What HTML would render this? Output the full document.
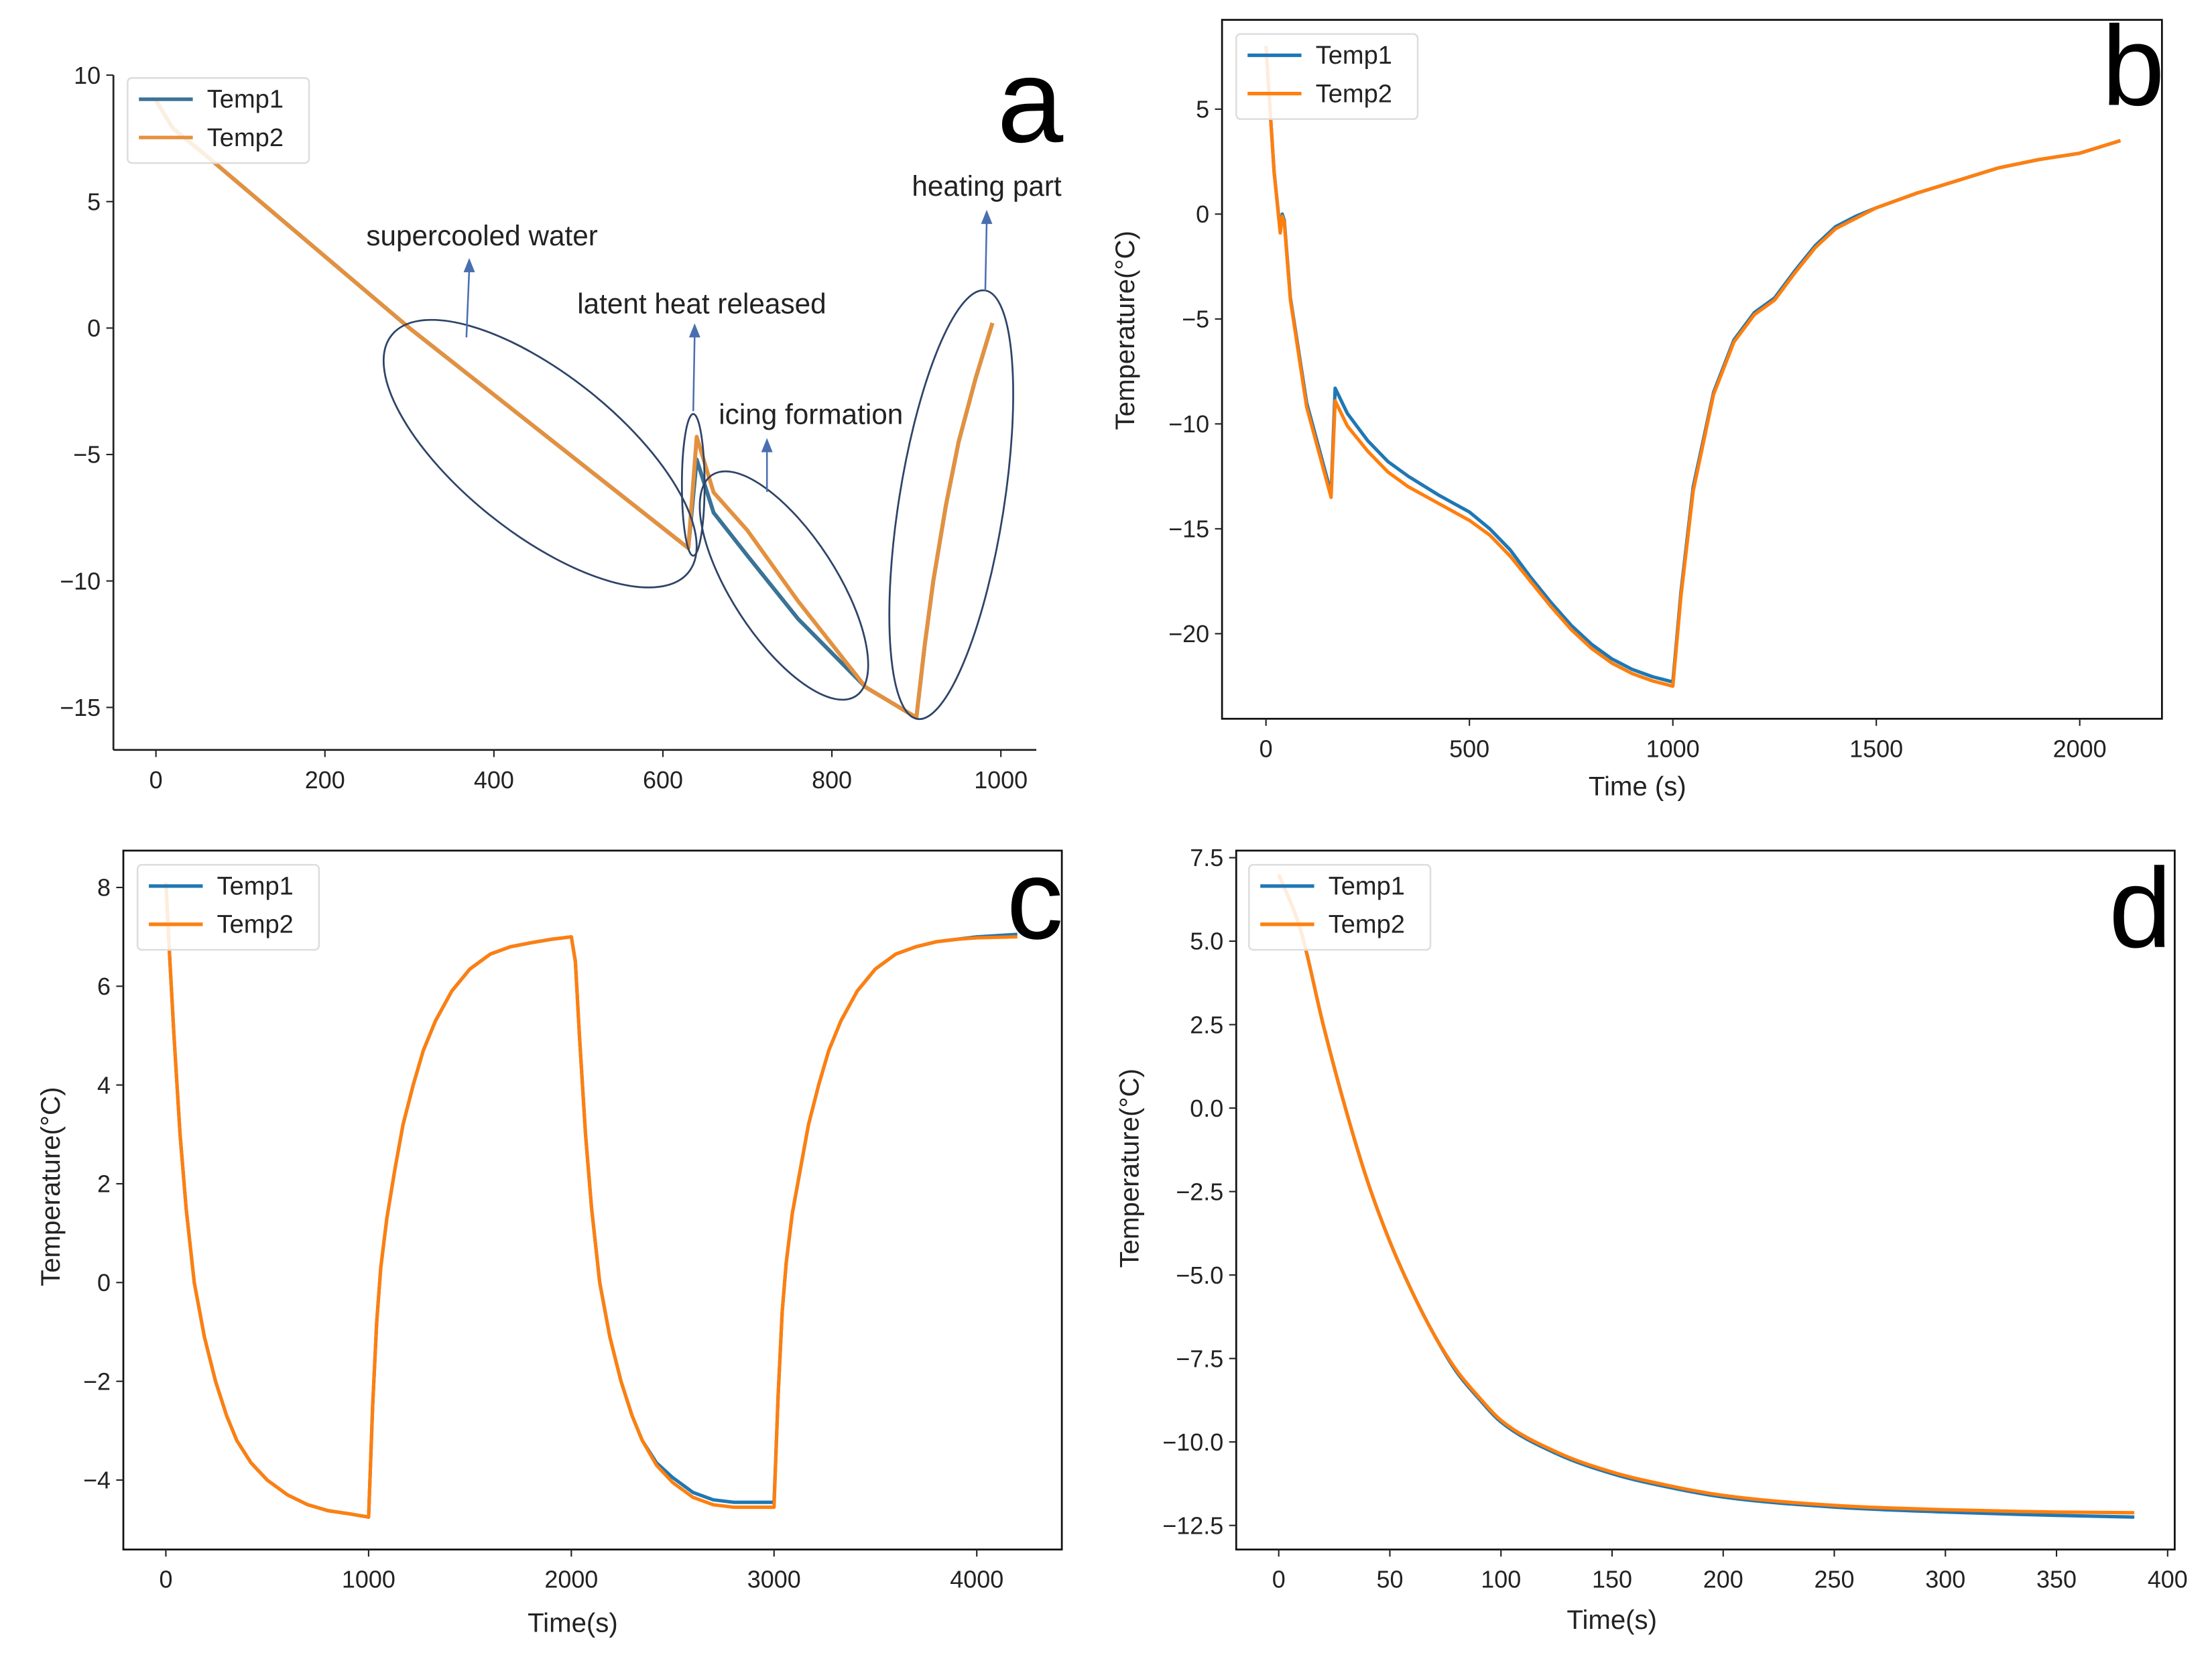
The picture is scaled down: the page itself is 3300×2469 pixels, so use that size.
<!DOCTYPE html>
<html><head><meta charset="utf-8"><style>
html,body{margin:0;padding:0;background:#fff}
svg{display:block}
text{font-family:"Liberation Sans","DejaVu Sans",sans-serif;fill:#222}
</style></head><body>
<svg id="fig" width="3300" height="2469" viewBox="0 0 1560.3 1167.4" preserveAspectRatio="none" xmlns="http://www.w3.org/2000/svg">
<g id="pa"></g>
<g id="pb"></g>
<g id="pc"></g>
<g id="pd"></g>
</svg>
<script>
// ---- Panel a data ----
const aT1x=[0,20,60,300,630,640,660,700,760,840,900,910,920,935,950,970,990];
const aT1y=[9,7.9,6.8,0,-8.7,-5.2,-7.3,-9,-11.5,-14.2,-15.4,-12.5,-10,-7,-4.5,-2,0.2];
const aT2x=[0,20,60,300,630,640,660,700,760,840,900,910,920,935,950,970,990];
const aT2y=[9,7.9,6.8,0,-8.7,-4.3,-6.5,-8,-10.8,-14.2,-15.4,-12.5,-10,-7,-4.5,-2,0.2];
const aXt=[0,200,400,600,800,1000];
const aYt=[10,5,0,-5,-10,-15];
// ---- Panel b data ----
const bT1x=[0,20,35,40,45,60,100,160,170,200,250,300,350,425,500,550,600,650,700,750,800,850,900,950,1000,1020,1050,1100,1150,1200,1250,1300,1350,1400,1450,1500,1600,1700,1800,1900,2000,2100];
const bT1y=[8,2,-0.8,0,-0.3,-4,-9,-13.3,-8.3,-9.5,-10.8,-11.8,-12.5,-13.4,-14.2,-15,-16,-17.3,-18.5,-19.6,-20.5,-21.2,-21.7,-22.05,-22.3,-18,-13,-8.5,-6,-4.7,-4,-2.7,-1.5,-0.6,-0.1,0.3,1,1.6,2.2,2.6,2.9,3.5];
const bT2y=[8,2,-0.9,-0.1,-0.4,-4.1,-9.2,-13.5,-8.9,-10.1,-11.3,-12.3,-13,-13.8,-14.6,-15.3,-16.3,-17.5,-18.7,-19.8,-20.7,-21.4,-21.9,-22.25,-22.5,-18.2,-13.2,-8.6,-6.1,-4.8,-4.1,-2.8,-1.6,-0.7,-0.2,0.3,1,1.6,2.2,2.6,2.9,3.5];
const bXt=[0,500,1000,1500,2000];
const bYt=[5,0,-5,-10,-15,-20];
// ---- Panel c data ----
const cX=[0,20,40,70,100,140,190,245,300,350,420,500,600,700,800,900,1000,1020,1040,1060,1090,1130,1170,1220,1270,1330,1410,1500,1600,1700,1800,1900,2000,2020,2040,2070,2100,2140,2190,2245,2300,2350,2420,2500,2600,2700,2800,3000,3020,3040,3060,3090,3130,3170,3220,3270,3330,3410,3500,3600,3700,3800,3900,4000,4200];
const cT1y=[8.1,6.5,5,3,1.5,0,-1.1,-2,-2.7,-3.2,-3.65,-4,-4.3,-4.5,-4.62,-4.68,-4.75,-2.5,-0.8,0.3,1.3,2.3,3.2,4,4.7,5.3,5.9,6.35,6.65,6.8,6.88,6.95,7,6.5,5,3,1.5,0,-1.1,-2,-2.7,-3.2,-3.65,-3.95,-4.25,-4.4,-4.45,-4.45,-2.3,-0.6,0.4,1.4,2.3,3.2,4,4.7,5.3,5.9,6.35,6.65,6.8,6.9,6.95,7,7.05];
const cT2y=[8.1,6.5,5,3,1.5,0,-1.1,-2,-2.7,-3.2,-3.65,-4,-4.3,-4.5,-4.62,-4.68,-4.75,-2.5,-0.8,0.3,1.3,2.3,3.2,4,4.7,5.3,5.9,6.35,6.65,6.8,6.88,6.95,7,6.5,5,3,1.5,0,-1.1,-2,-2.7,-3.2,-3.7,-4.05,-4.35,-4.5,-4.55,-4.55,-2.3,-0.6,0.4,1.4,2.3,3.2,4,4.7,5.3,5.9,6.35,6.65,6.8,6.9,6.95,6.98,7];
const cXt=[0,1000,2000,3000,4000];
const cYt=[8,6,4,2,0,-2,-4];
// ---- Panel d data ----
const dX=[0,10,20,30,40,50,60,70,80,90,100,125,150,175,200,250,300,350,385];
const dT1y=[7,5.3,2.5,0,-2.2,-4,-5.5,-6.8,-7.9,-8.7,-9.4,-10.35,-10.95,-11.35,-11.65,-11.95,-12.1,-12.2,-12.25];
const dT2y=[7,5.3,2.5,0,-2.2,-4,-5.5,-6.8,-7.85,-8.65,-9.35,-10.3,-10.9,-11.3,-11.6,-11.9,-12.03,-12.1,-12.12];
const dXt=[0,50,100,150,200,250,300,350,400];
const dYt=[7.5,5.0,2.5,0.0,-2.5,-5.0,-7.5,-10.0,-12.5];

const NS='http://www.w3.org/2000/svg';
function mk(tag,parent,attrs){const e=document.createElementNS(NS,tag);for(const k in attrs)e.setAttribute(k,attrs[k]);parent.appendChild(e);return e;}
function lin(d0,d1,p0,p1){return v=>p0+(v-d0)*(p1-p0)/(d1-d0);}
function minus(s){return String(s).replace('-','\u2212');}

function linPath(px,py){return px.map((x,i)=>(i?'L':'M')+x.toFixed(2)+' '+py[i].toFixed(2)).join(' ');}
function monoPath(px,py){
  const n=px.length; if(n<3)return linPath(px,py);
  const d=[],m=[];
  for(let i=0;i<n-1;i++){const dx=px[i+1]-px[i];d.push(dx===0?0:(py[i+1]-py[i])/dx);}
  m[0]=d[0];m[n-1]=d[n-2];
  for(let i=1;i<n-1;i++){m[i]=(d[i-1]*d[i]<=0)?0:(d[i-1]+d[i])/2;}
  for(let i=0;i<n-1;i++){if(d[i]===0){m[i]=0;m[i+1]=0;continue;}
    const a=m[i]/d[i],b=m[i+1]/d[i],s=a*a+b*b;if(s>9){const t=3/Math.sqrt(s);m[i]=t*a*d[i];m[i+1]=t*b*d[i];}}
  let p='M'+px[0].toFixed(2)+' '+py[0].toFixed(2);
  for(let i=0;i<n-1;i++){const h=(px[i+1]-px[i])/3;
    p+=' C'+(px[i]+h).toFixed(2)+' '+(py[i]+m[i]*h).toFixed(2)+' '+(px[i+1]-h).toFixed(2)+' '+(py[i+1]-m[i+1]*h).toFixed(2)+' '+px[i+1].toFixed(2)+' '+py[i+1].toFixed(2);}
  return p;
}

function axes(g,o){
  const sx=lin(o.x0,o.x1,o.px0,o.px1), sy=lin(o.y0,o.y1,o.py0,o.py1);
  if(o.box){
    const r=mk('rect',g,{x:o.L,y:o.T,width:o.R-o.L,height:o.B-o.T,fill:'none',stroke:'#111','stroke-width':1.3});
    
    
  } else {
    const l1=mk('line',g,{x1:o.L,y1:o.T,x2:o.L,y2:o.B,stroke:'#222','stroke-width':1.3});
    
    
    const l2=mk('line',g,{x1:o.L,y1:o.B,x2:o.R,y2:o.B,stroke:'#222','stroke-width':1.3});
    
    
  }
  o.xt.forEach(v=>{const x=sx(v);
    mk('line',g,{x1:x,y1:o.B,x2:x,y2:o.B+5,stroke:'#222','stroke-width':1});
    const t=mk('text',g,{x:x,y:o.B+27,'text-anchor':'middle','font-size':17});
    t.textContent=o.xfmt?o.xfmt(v):minus(v);
    
    
  });
  o.yt.forEach(v=>{const y=sy(v);
    mk('line',g,{x1:o.L-5,y1:y,x2:o.L,y2:y,stroke:'#222','stroke-width':1});
    const t=mk('text',g,{x:o.L-9,y:y+6,'text-anchor':'end','font-size':17});
    t.textContent=o.yfmt?o.yfmt(v):minus(v);
    
    
  });
  return {sx,sy};
}
function series(g,s,xs,ys,color,w,name,smooth){
  const px=xs.map(s.sx),py=ys.map(s.sy);
  const d=smooth?monoPath(px,py):linPath(px,py);
  const p=mk('path',g,{d:d,fill:'none',stroke:color,'stroke-width':w,'stroke-linejoin':'round'});
  
  
}
function legend(g,x,y,c1,c2){
  const lg=mk('g',g,{});
  
  
  mk('rect',lg,{x:x,y:y,width:128,height:60,rx:3,fill:'#fff','fill-opacity':0.85,stroke:'#ddd','stroke-width':1.2});
  mk('line',lg,{x1:x+8,y1:y+15,x2:x+46,y2:y+15,stroke:c1,'stroke-width':2.5});
  mk('line',lg,{x1:x+8,y1:y+42,x2:x+46,y2:y+42,stroke:c2,'stroke-width':2.5});
  const t1=mk('text',lg,{x:x+56,y:y+21,'font-size':18});t1.textContent='Temp1';
  
  
  const t2=mk('text',lg,{x:x+56,y:y+48,'font-size':18});t2.textContent='Temp2';
  
  
}
function bigLetter(g,ch,x,y,size){
  const t=mk('text',g,{x:x,y:y,'font-size':size,'text-anchor':'end',style:'fill:#000'});t.textContent=ch;
  
  
}
function label(g,txt,x,y,rot,name){
  const t=mk('text',g,{x:x,y:y,'font-size':19,'text-anchor':'middle'});
  if(rot)t.setAttribute('transform','rotate(-90 '+x+' '+y+')');
  t.textContent=txt;
  
  
}
const BLUE='#1f77b4',ORANGE='#ff7f0e';

// Panel a
const ga=document.getElementById('pa');
const sa=axes(ga,{L:80,R:731,T:53,B:529,x0:0,x1:1000,px0:110,px1:706,y0:10,y1:-15,py0:53,py1:499,xt:aXt,yt:aYt,box:false});
series(ga,sa,aT1x,aT1y,'#3a7396',2.8,'temp1-line',false);
series(ga,sa,aT2x,aT2y,'#e3913f',2.8,'temp2-line',false);
legend(ga,90,55,'#3a7396','#e3913f');
bigLetter(ga,'a',750,100,84);
const ells=[[381,320,134,56,38.6,'ellipse-supercooled'],[489,342,50,8,90,'ellipse-latent'],[553,413,93,37,57,'ellipse-icing'],[671,356,153,37,-81,'ellipse-heating']];
ells.forEach(e=>{const el=mk('ellipse',ga,{cx:e[0],cy:e[1],rx:e[2],ry:e[3],transform:'rotate('+e[4]+' '+e[0]+' '+e[1]+')',fill:'none',stroke:'#2e4468','stroke-width':1.3});
  
  });
const arrs=[[329,238,331,182,'supercooled water',340,173,'annotation-supercooled'],[489,290,490,228,'latent heat released',495,221,'annotation-latent'],[541,347,541,309,'icing formation',572,299,'annotation-icing'],[695,205,696,148,'heating part',696,138,'annotation-heating']];
arrs.forEach(a=>{
  mk('line',ga,{x1:a[0],y1:a[1],x2:a[2],y2:a[3]+8,stroke:'#4a6fb0','stroke-width':1.2});
  mk('path',ga,{d:'M'+(a[2]-4)+' '+(a[3]+10)+' L'+a[2]+' '+a[3]+' L'+(a[2]+4)+' '+(a[3]+10)+'Z',fill:'#4a6fb0'});
  const t=mk('text',ga,{x:a[5],y:a[6],'font-size':20,'text-anchor':'middle'});t.textContent=a[4];
  
  
});

// Panel b
const gb=document.getElementById('pb');
const sb=axes(gb,{L:862,R:1525,T:14,B:507,x0:0,x1:2000,px0:893,px1:1467,y0:5,y1:-20,py0:77,py1:447,xt:bXt,yt:bYt,box:true});
series(gb,sb,bT1x,bT1y,BLUE,2.4,'temp1-line',false);
series(gb,sb,bT1x,bT2y,ORANGE,2.4,'temp2-line',false);
legend(gb,872,24,BLUE,ORANGE);
bigLetter(gb,'b',1527,74,80);
label(gb,'Temperature(°C)',800,233,true,'y-axis-title');
label(gb,'Time (s)',1155,561,false,'x-axis-title');

// Panel c
const gc=document.getElementById('pc');
const sc=axes(gc,{L:87,R:749,T:600,B:1093,x0:0,x1:4000,px0:117,px1:689,y0:8,y1:-4,py0:626,py1:1044,xt:cXt,yt:cYt,box:true});
series(gc,sc,cX,cT1y,BLUE,2.4,'temp1-line',false);
series(gc,sc,cX,cT2y,ORANGE,2.4,'temp2-line',false);
legend(gc,97,610,BLUE,ORANGE);
bigLetter(gc,'c',750,662,80);
label(gc,'Temperature(°C)',42,837,true,'y-axis-title');
label(gc,'Time(s)',404,1151,false,'x-axis-title');

// Panel d
const gd=document.getElementById('pd');
const sd=axes(gd,{L:872,R:1534,T:600,B:1093,x0:0,x1:400,px0:902,px1:1529,y0:7.5,y1:-12.5,py0:605,py1:1076,xt:dXt,yt:dYt,box:true,yfmt:v=>minus(v.toFixed(1))});
series(gd,sd,dX,dT1y,BLUE,2.4,'temp1-line',true);
series(gd,sd,dX,dT2y,ORANGE,2.4,'temp2-line',true);
legend(gd,881,610,BLUE,ORANGE);
bigLetter(gd,'d',1532,668,80);
label(gd,'Temperature(°C)',803,824,true,'y-axis-title');
label(gd,'Time(s)',1137,1149,false,'x-axis-title');
</script>
</body></html>
